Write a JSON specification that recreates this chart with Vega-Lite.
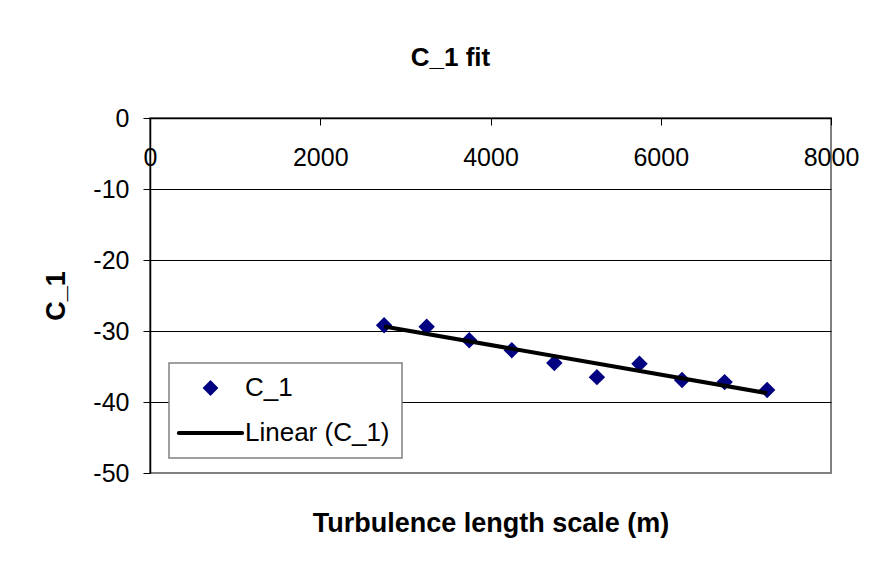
{
  "$schema": "https://vega.github.io/schema/vega-lite/v6.json",
  "width": 681,
  "height": 355,
  "autosize": {"type": "none"},
  "padding": {"left": 150, "top": 118, "right": 40, "bottom": 101},
  "background": "white",
  "config": {
    "view": {"stroke": "#808080", "strokeWidth": 2},
    "font": "Liberation Sans",
    "legend": {
      "orient": "none",
      "legendX": 19,
      "legendY": 245,
      "direction": "vertical",
      "padding": 12,
      "fillColor": "white",
      "strokeColor": "#808080",
      "labelFont": "Liberation Sans",
      "labelFontSize": 26,
      "labelColor": "black",
      "labelLimit": 400,
      "symbolSize": 250,
      "symbolOffset": 16.5,
      "labelOffset": 21.5,
      "rowPadding": 19
    }
  },
  "title": {
    "text": "C_1 fit",
    "font": "Liberation Sans",
    "fontSize": 26,
    "fontWeight": "bold",
    "color": "black",
    "anchor": "middle",
    "frame": "group",
    "dx": -40,
    "offset": 14,
    "baseline": "alphabetic"
  },
  "data": {
    "values": [
      {"x": 2750, "y": -29.2},
      {"x": 3250, "y": -29.4},
      {"x": 3750, "y": -31.3},
      {"x": 4250, "y": -32.7},
      {"x": 4750, "y": -34.5},
      {"x": 5250, "y": -36.5},
      {"x": 5750, "y": -34.6},
      {"x": 6250, "y": -36.9},
      {"x": 6750, "y": -37.2},
      {"x": 7250, "y": -38.3}
    ]
  },
  "layer": [
    {
      "mark": {"type": "point", "shape": "diamond", "filled": true, "size": 270, "opacity": 1},
      "encoding": {
        "x": {
          "field": "x",
          "type": "quantitative",
          "scale": {"domain": [0, 8000], "nice": false, "zero": false},
          "axis": {
            "orient": "bottom",
            "offset": -355,
            "title": null,
            "values": [0, 2000, 4000, 6000, 8000],
            "labelExpr": "'' + datum.value",
            "labelFont": "Liberation Sans",
            "labelFontSize": 25,
            "labelColor": "black",
            "labelPadding": 20,
            "labelFlush": false,
            "labelOverlap": false,
            "ticks": true,
            "tickSize": 7,
            "tickColor": "black",
            "domainColor": "black",
            "domainWidth": 1.5,
            "grid": false
          }
        },
        "y": {
          "field": "y",
          "type": "quantitative",
          "scale": {"domain": [-50, 0], "nice": false, "zero": false},
          "axis": {
            "title": "C_1",
            "titleFont": "Liberation Sans",
            "titleFontSize": 27,
            "titleFontWeight": "bold",
            "titleColor": "black",
            "titlePadding": 22,
            "values": [0, -10, -20, -30, -40, -50],
            "labelExpr": "'' + datum.value",
            "labelFont": "Liberation Sans",
            "labelFontSize": 25,
            "labelColor": "black",
            "labelPadding": 14,
            "labelFlush": false,
            "labelOverlap": false,
            "tickSize": 7,
            "tickColor": "black",
            "domainColor": "black",
            "domainWidth": 1.5,
            "grid": true,
            "gridColor": {"condition": {"test": "datum.value === -50", "value": "#808080"}, "value": "black"},
            "gridOpacity": 1,
            "gridWidth": 1
          }
        },
        "color": {
          "datum": "C_1",
          "type": "nominal",
          "scale": {"domain": ["C_1", "Linear (C_1)"], "range": ["#000080", "#000000"]},
          "legend": {
            "title": null,
            "encode": {
              "legend": {"update": {"strokeWidth": {"value": 1.5}}},
              "symbols": {
                "update": {
                  "shape": {"signal": "datum.value === 'C_1' ? 'diamond' : 'M-4,0H4'"},
                  "fill": {"signal": "datum.value === 'C_1' ? '#000080' : 'transparent'"},
                  "stroke": {"signal": "datum.value === 'C_1' ? 'transparent' : '#000000'"},
                  "strokeWidth": {"signal": "datum.value === 'C_1' ? 0 : 4"},
                  "strokeCap": {"value": "round"},
                  "opacity": {"value": 1},
                  "fillOpacity": {"value": 1},
                  "strokeOpacity": {"value": 1}
                }
              }
            }
          }
        }
      }
    },
    {
      "transform": [{"regression": "y", "on": "x"}],
      "mark": {"type": "line", "strokeWidth": 4},
      "encoding": {
        "x": {
          "field": "x",
          "type": "quantitative",
          "axis": {
            "orient": "bottom",
            "title": "Turbulence length scale (m)",
            "titleFont": "Liberation Sans",
            "titleFontSize": 27,
            "titleFontWeight": "bold",
            "titleColor": "black",
            "titlePadding": 37,
            "labels": false,
            "ticks": false,
            "domain": false,
            "grid": false
          }
        },
        "y": {"field": "y", "type": "quantitative"},
        "color": {
          "datum": "Linear (C_1)",
          "type": "nominal",
          "legend": {
            "title": null,
            "encode": {
              "legend": {"update": {"strokeWidth": {"value": 1.5}}},
              "symbols": {
                "update": {
                  "shape": {"signal": "datum.value === 'C_1' ? 'diamond' : 'M-4,0H4'"},
                  "fill": {"signal": "datum.value === 'C_1' ? '#000080' : 'transparent'"},
                  "stroke": {"signal": "datum.value === 'C_1' ? 'transparent' : '#000000'"},
                  "strokeWidth": {"signal": "datum.value === 'C_1' ? 0 : 4"},
                  "strokeCap": {"value": "round"},
                  "opacity": {"value": 1},
                  "fillOpacity": {"value": 1},
                  "strokeOpacity": {"value": 1}
                }
              }
            }
          }
        }
      }
    }
  ],
  "resolve": {"axis": {"x": "independent"}}
}
